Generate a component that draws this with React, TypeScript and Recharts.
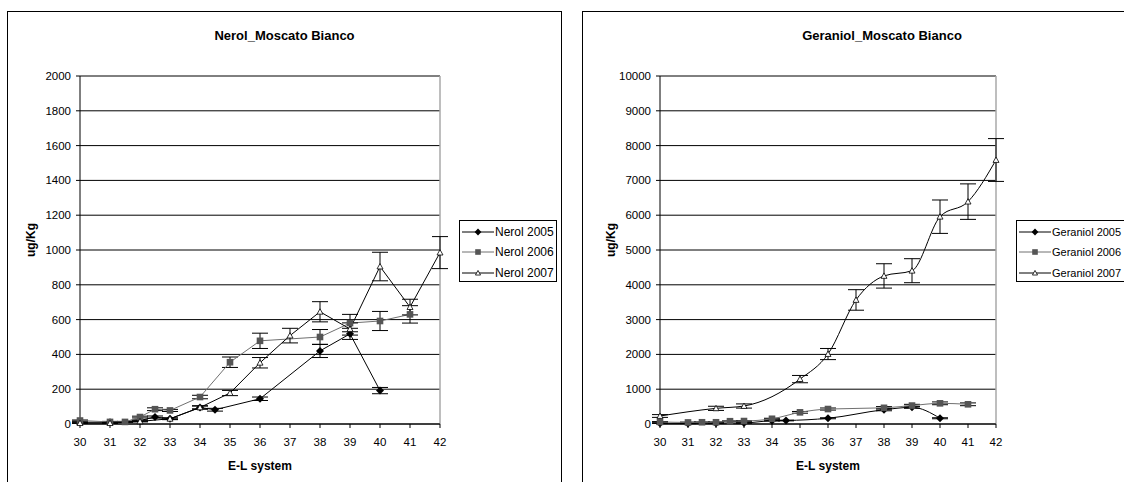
import React from 'react';
import { LineChart, Line, XAxis, YAxis, CartesianGrid, ErrorBar, ReferenceLine } from 'recharts';

// Eixo X comum: estágios E-L
const xTicks = [30, 31, 32, 33, 34, 35, 36, 37, 38, 39, 40, 41, 42];

// Nerol
const nerolTicks = [0, 200, 400, 600, 800, 1000, 1200, 1400, 1600, 1800, 2000];
const nerolX2005 = [30, 31, 32, 32.5, 33, 34, 34.5, 36, 38, 39, 40];
const nerolY2005 = [10, 10, 20, 40, 30, 95, 82, 145, 420, 518, 192];
const nerolE2005 = [3, 3, 4, 6, 5, 10, 8, 10, 38, 32, 18];
const nerolX2006 = [30, 31, 31.5, 32, 32.5, 33, 34, 35, 36, 38, 39, 40, 41];
const nerolY2006 = [20, 12, 12, 40, 85, 78, 155, 355, 478, 500, 580, 592, 630];
const nerolE2006 = [3, 3, 3, 5, 8, 6, 10, 30, 44, 43, 50, 55, 50];
const nerolX2007 = [30, 31, 32, 33, 34, 35, 36, 37, 38, 39, 40, 41, 42];
const nerolY2007 = [5, 5, 15, 30, 95, 178, 352, 508, 645, 546, 905, 672, 985];
const nerolE2007 = [2, 2, 3, 4, 8, 15, 30, 42, 58, 35, 82, 45, 92];

// Geraniol
const geraniolTicks = [0, 1000, 2000, 3000, 4000, 5000, 6000, 7000, 8000, 9000, 10000];
const gerX2005 = [30, 31, 32, 33, 34, 34.5, 36, 38, 39, 40];
const gerY2005 = [20, 15, 25, 30, 95, 100, 165, 410, 480, 165];
const gerE2005 = [5, 5, 5, 5, 10, 10, 15, 30, 30, 15];
const gerX2006 = [30, 31, 31.5, 32, 32.5, 33, 34, 35, 36, 38, 39, 40, 41];
const gerY2006 = [60, 45, 50, 50, 80, 85, 150, 335, 430, 465, 530, 594, 566];
const gerE2006 = [10, 10, 10, 10, 10, 10, 15, 25, 30, 35, 35, 40, 40];
const gerX2007 = [30, 32, 33, 35, 36, 37, 38, 39, 40, 41, 42];
const gerY2007 = [230, 450, 517, 1290, 2010, 3565, 4255, 4405, 5957, 6390, 7586];
const gerE2007 = [40, 60, 60, 105, 160, 295, 350, 345, 480, 510, 615];

const FONT = '"Liberation Sans", Arial, sans-serif';

type Pt = { x: number; y: number; e: number };
const toPoints = (xs: number[], ys: number[], es: number[]): Pt[] =>
  xs.map((x, i) => ({ x, y: ys[i], e: es[i] }));

type Marker = 'diamond' | 'square' | 'triangle';

const MarkerShape = ({ kind, cx, cy, size = 1 }: { kind: Marker; cx: number; cy: number; size?: number }) => {
  if (kind === 'diamond') {
    const r = 4 * size;
    return <polygon points={`${cx},${cy - r} ${cx + r},${cy} ${cx},${cy + r} ${cx - r},${cy}`} fill="#000" />;
  }
  if (kind === 'square') {
    const s = 3.3 * size;
    return <rect x={cx - s} y={cy - s} width={2 * s} height={2 * s} fill="#555" />;
  }
  const r = 3 * size;
  return (
    <polygon
      points={`${cx},${cy - r} ${cx + r},${cy + r * 0.8} ${cx - r},${cy + r * 0.8}`}
      fill="#fff"
      stroke="#000"
      strokeWidth={0.8}
    />
  );
};

const seriesStyle: { stroke: string; marker: Marker }[] = [
  { stroke: '#000', marker: 'diamond' },
  { stroke: '#707070', marker: 'square' },
  { stroke: '#000', marker: 'triangle' },
];

interface PanelProps {
  left: number;
  width: number;
  frameLeft: number;
  frameWidth: number;
  plotLeft: number;
  plotRight: number;
  title: string;
  yTicks: number[];
  series: Pt[][];
  names: string[];
  curve: 'linear' | 'monotone';
  legendLeft: number;
  legendWidth: number;
  legendFont: number;
}

const Panel: React.FC<PanelProps> = (p) => {
  const plotCenter = (p.plotLeft + p.plotRight) / 2;
  const yMax = p.yTicks[p.yTicks.length - 1];
  return (
    <div style={{ position: 'absolute', left: p.left, top: 0, width: p.width, height: 482 }}>
      {/* moldura do gráfico */}
      <div
        style={{
          position: 'absolute',
          left: p.frameLeft,
          top: 11,
          width: p.frameWidth,
          height: 500,
          border: '1.5px solid #000',
          boxSizing: 'border-box',
        }}
      />
      <div
        style={{
          position: 'absolute',
          left: p.frameLeft + p.frameWidth / 2,
          top: 35,
          transform: 'translate(-50%, -50%)',
          fontFamily: FONT,
          fontWeight: 'bold',
          fontSize: 13,
          whiteSpace: 'nowrap',
        }}
      >
        {p.title}
      </div>
      <div
        style={{
          position: 'absolute',
          left: p.plotLeft - 49,
          top: 240,
          transform: 'translate(-50%, -50%) rotate(-90deg)',
          fontFamily: FONT,
          fontWeight: 'bold',
          fontSize: 12,
          whiteSpace: 'nowrap',
        }}
      >
        ug/Kg
      </div>
      <div
        style={{
          position: 'absolute',
          left: plotCenter,
          top: 466,
          transform: 'translate(-50%, -50%)',
          fontFamily: FONT,
          fontWeight: 'bold',
          fontSize: 12,
          whiteSpace: 'nowrap',
        }}
      >
        E-L system
      </div>

      <div style={{ position: 'absolute', left: 0, top: 0 }}>
        <LineChart
          width={p.width}
          height={482}
          margin={{ top: 76, right: p.width - p.plotRight, bottom: 0, left: p.plotLeft - 60 }}
        >
          <CartesianGrid vertical={false} stroke="#000" />
          <XAxis
            dataKey="x"
            type="number"
            domain={[30, 42]}
            ticks={xTicks}
            interval={0}
            height={58}
            tickSize={4}
            tickMargin={10}
            stroke="#000"
            tick={{ fill: '#000', fontSize: 11.5, fontFamily: FONT }}
            allowDuplicatedCategory={false}
          />
          <YAxis
            type="number"
            domain={[0, yMax]}
            ticks={p.yTicks}
            interval={0}
            width={60}
            tickSize={4}
            tickMargin={5}
            stroke="#000"
            tick={{ fill: '#000', fontSize: 11.5, fontFamily: FONT }}
          />
          <ReferenceLine x={42} stroke="#a8a8a8" strokeWidth={1.5} />
          {p.series.map((data, i) => (
            <Line
              key={p.names[i]}
              data={data}
              dataKey="y"
              name={p.names[i]}
              type={p.curve}
              stroke={seriesStyle[i].stroke}
              strokeWidth={1}
              activeDot={false}
              isAnimationActive={false}
              dot={(d: any) => (
                <g key={`${i}-${d.index}`}>
                  <MarkerShape kind={seriesStyle[i].marker} cx={d.cx} cy={d.cy} />
                </g>
              )}
            >
              <ErrorBar dataKey="e" width={8} stroke="#000" strokeWidth={1} isAnimationActive={false} />
            </Line>
          ))}
        </LineChart>
      </div>

      {/* legenda */}
      <div
        style={{
          position: 'absolute',
          left: p.legendLeft,
          top: 220,
          width: p.legendWidth,
          height: 62,
          border: '1px solid #000',
          boxSizing: 'border-box',
          background: '#fff',
          fontFamily: FONT,
          fontSize: p.legendFont,
          paddingTop: 1,
        }}
      >
        {p.names.map((n, i) => (
          <div key={n} style={{ display: 'flex', alignItems: 'center', height: 20.3, whiteSpace: 'nowrap' }}>
            <svg width={34} height={12} style={{ marginLeft: 1, flex: 'none' }}>
              <line x1={1} y1={6} x2={33} y2={6} stroke={seriesStyle[i].stroke} strokeWidth={1} />
              <MarkerShape kind={seriesStyle[i].marker} cx={17} cy={6} size={0.85} />
            </svg>
            <span>{n}</span>
          </div>
        ))}
      </div>
    </div>
  );
};

export default function App() {
  const nerol = [
    toPoints(nerolX2005, nerolY2005, nerolE2005),
    toPoints(nerolX2006, nerolY2006, nerolE2006),
    toPoints(nerolX2007, nerolY2007, nerolE2007),
  ];
  const geraniol = [
    toPoints(gerX2005, gerY2005, gerE2005),
    toPoints(gerX2006, gerY2006, gerE2006),
    toPoints(gerX2007, gerY2007, gerE2007),
  ];
  return (
    <div
      style={{
        position: 'absolute',
        left: 0,
        top: 0,
        width: 1124,
        height: 482,
        overflow: 'hidden',
        background: '#fff',
      }}
    >
      <Panel
        left={0}
        width={562}
        frameLeft={7}
        frameWidth={555}
        plotLeft={80}
        plotRight={440}
        title="Nerol_Moscato Bianco"
        yTicks={nerolTicks}
        series={nerol}
        names={['Nerol 2005', 'Nerol 2006', 'Nerol 2007']}
        curve="linear"
        legendLeft={459}
        legendWidth={98}
        legendFont={12}
      />
      <Panel
        left={560}
        width={564}
        frameLeft={22}
        frameWidth={600}
        plotLeft={100}
        plotRight={436}
        title="Geraniol_Moscato Bianco"
        yTicks={geraniolTicks}
        series={geraniol}
        names={['Geraniol 2005', 'Geraniol 2006', 'Geraniol 2007']}
        curve="monotone"
        legendLeft={456}
        legendWidth={150}
        legendFont={11}
      />
    </div>
  );
}
